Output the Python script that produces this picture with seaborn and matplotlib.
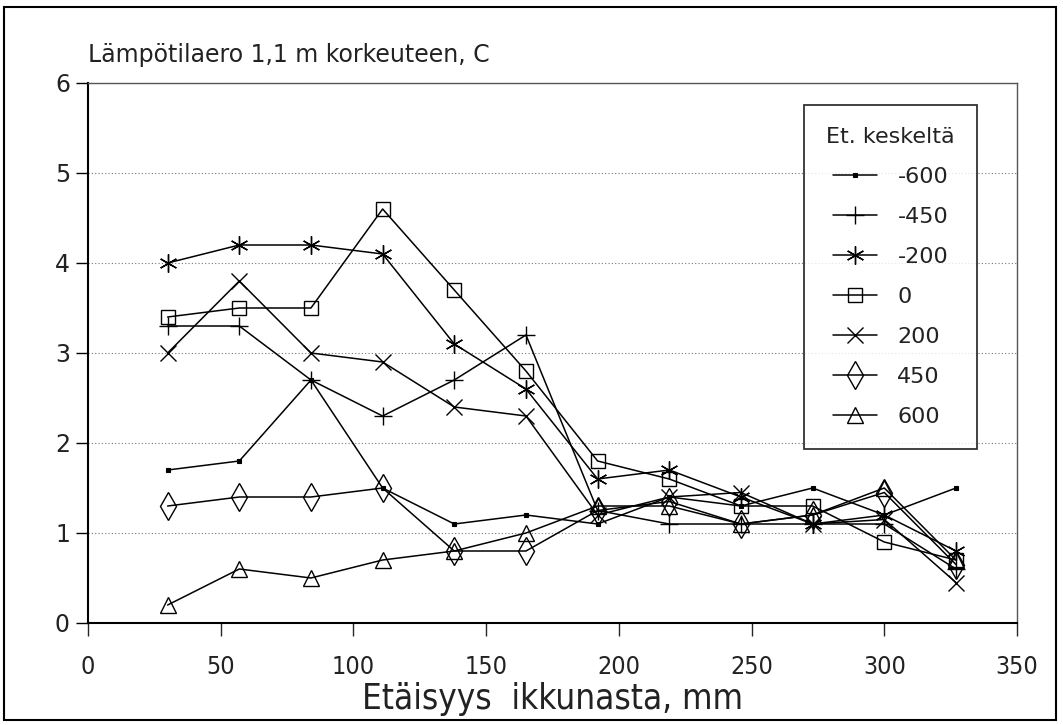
import matplotlib
matplotlib.use("Agg")
import matplotlib.pyplot as plt
import seaborn as sns
import numpy as np
from matplotlib.patches import Rectangle

# ---- data ----
distance_mm = [30, 57, 84, 111, 138, 165, 192, 219, 246, 273, 300, 327]
series_labels = ["-600", "-450", "-200", "0", "200", "450", "600"]
v_m600 = [1.7, 1.8, 2.7, 1.5, 1.1, 1.2, 1.1, 1.4, 1.3, 1.5, 1.2, 1.5]
v_m450 = [3.3, 3.3, 2.7, 2.3, 2.7, 3.2, 1.25, 1.1, 1.1, 1.1, 1.1, 0.6]
v_m200 = [4.0, 4.2, 4.2, 4.1, 3.1, 2.6, 1.6, 1.7, 1.4, 1.1, 1.2, 0.8]
v_0 = [3.4, 3.5, 3.5, 4.6, 3.7, 2.8, 1.8, 1.6, 1.3, 1.3, 0.9, 0.7]
v_200 = [3.0, 3.8, 3.0, 2.9, 2.4, 2.3, 1.2, 1.4, 1.45, 1.1, 1.15, 0.45]
v_450 = [1.3, 1.4, 1.4, 1.5, 0.8, 0.8, 1.25, 1.35, 1.1, 1.2, 1.45, 0.65]
v_600 = [0.2, 0.6, 0.5, 0.7, 0.8, 1.0, 1.3, 1.3, 1.1, 1.2, 1.5, 0.7]
y_ticks = [0, 1, 2, 3, 4, 5, 6]
x_ticks = [0, 50, 100, 150, 200, 250, 300, 350]

title_text = "Lämpötilaero 1,1 m korkeuteen, C"
xlabel_text = "Etäisyys  ikkunasta, mm"
legend_title = "Et. keskeltä"

all_values = [v_m600, v_m450, v_m200, v_0, v_200, v_450, v_600]

sns.set_style("white")
plt.rcParams["font.family"] = ["DejaVu Sans"]

fig = plt.figure(figsize=(10.63, 7.25), dpi=100)
ax = fig.add_axes([88 / 1063, 1 - 623 / 725, (1017 - 88) / 1063, (623 - 83) / 725])

styles = [
    dict(marker="s", markersize=3.5, markerfacecolor="black", markeredgewidth=0.8),
    dict(marker="+", markersize=13, markeredgewidth=1.0),
    dict(marker=(6, 2, 0), markersize=13, markeredgewidth=1.0),
    dict(marker="s", markersize=10, markerfacecolor="none", markeredgewidth=1.0),
    dict(marker="x", markersize=11, markeredgewidth=1.0),
    dict(marker="d", markersize=14, markerfacecolor="none", markeredgewidth=1.0),
    dict(marker="^", markersize=12, markerfacecolor="none", markeredgewidth=1.0),
]

for lab, vals, st in zip(series_labels, all_values, styles):
    sns.lineplot(x=distance_mm, y=vals, ax=ax, color="black", linewidth=1.1,
                 markeredgecolor="black", label=lab, **st)

ax.set_xlim(0, 350)
ax.set_ylim(0, 6)
ax.set_xticks(x_ticks)
ax.set_yticks(y_ticks)
ax.yaxis.grid(True, linestyle=(0, (1, 2)), color="#777777", linewidth=0.8)
ax.xaxis.grid(False)

for s in ["left", "bottom"]:
    ax.spines[s].set_color("black")
    ax.spines[s].set_linewidth(1.5)
for s in ["top", "right"]:
    ax.spines[s].set_color("#555555")
    ax.spines[s].set_linewidth(1.0)

ax.tick_params(axis="y", direction="out", length=9, width=1.0, pad=4,
               labelsize=17, colors="black", left=True)
ax.tick_params(axis="x", direction="out", length=9, width=1.0, pad=14,
               labelsize=18, bottom=True)
for t in ax.get_xticklabels():
    t.set_family("DejaVu Sans")
    t.set_fontstretch("condensed")
    t.set_color("#222222")
for t in ax.get_yticklabels():
    t.set_color("#222222")

ax.set_xlabel(xlabel_text, fontsize=25, family="DejaVu Sans", fontstretch="condensed",
              color="#222222", labelpad=2)
ax.set_ylabel("")

ax.text(0, 1.03, title_text, transform=ax.transAxes, ha="left", va="bottom",
        fontsize=17, color="#222222")

leg = ax.legend(title=legend_title, loc="upper left",
                bbox_to_anchor=((804 - 88) / 929, (623 - 105) / 540),
                borderaxespad=0, frameon=True, fancybox=False, fontsize=16,
                title_fontsize=16, handlelength=2.0, labelspacing=0.9,
                borderpad=1.0, handletextpad=0.9)
leg.get_frame().set_edgecolor("black")
leg.get_frame().set_linewidth(1.3)
for t in leg.get_texts():
    t.set_color("#222222")
leg.get_title().set_color("#222222")

fig.patches.append(Rectangle((4 / 1063, 5 / 725), 1052 / 1063, 713 / 725,
                             transform=fig.transFigure, fill=False,
                             edgecolor="black", linewidth=1.5))

fig.savefig("out.png", dpi=100)
